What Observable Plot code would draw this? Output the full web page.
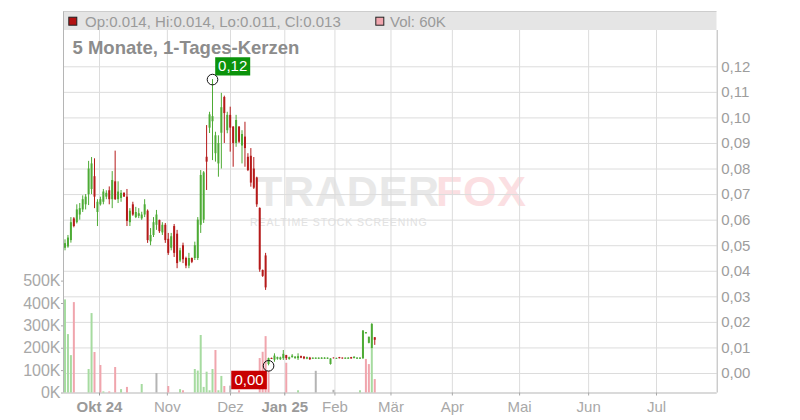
<!DOCTYPE html>
<html><head><meta charset="utf-8">
<script src="https://cdn.jsdelivr.net/npm/d3@7"></script>
<script src="https://cdn.jsdelivr.net/npm/@observablehq/plot@0.6"></script>
<style>
html,body{margin:0;padding:0;background:#fff;}
#wrap{position:relative;width:800px;height:420px;overflow:hidden;font-family:"Liberation Sans",Arial,sans-serif;}
.layer{position:absolute;left:0;top:0;width:800px;height:420px;}
.layer svg{display:block;}
</style></head>
<body>
<div id="wrap">
  <svg class="layer" id="wm" width="800" height="420">
    <text x="256" y="205.5" font-family="Liberation Sans, Arial, sans-serif" font-weight="bold" font-size="43" letter-spacing="0.8" fill="#e8e8e8">TRADER</text>
    <text x="436" y="205.5" font-family="Liberation Sans, Arial, sans-serif" font-weight="bold" font-size="43" letter-spacing="0.8" fill="#fbdfe2">FOX</text>
    <text x="250" y="226" font-family="Liberation Sans, Arial, sans-serif" font-size="10.5" letter-spacing="0.9" fill="#e2e2e2">REALTIME STOCK SCREENING</text>
  </svg>
  <div class="layer" id="gridLayer"></div>
  <div class="layer" id="volLayer"></div>
  <div class="layer" id="candleLayer"></div>
  <svg class="layer" id="hdr" width="800" height="420" style="pointer-events:none">
    <rect x="63" y="11.5" width="653.5" height="18.5" fill="#e5e5e5"/>
    <line x1="63" x2="716.5" y1="11.5" y2="11.5" stroke="#cdcdcd"/>
    <line x1="63.5" x2="63.5" y1="11.5" y2="30" stroke="#b5b5b5"/>
    <rect x="68.8" y="17.2" width="8" height="8" fill="#b31212" stroke="#222"/>
    <text x="85" y="26.7" font-family="Liberation Sans, Arial, sans-serif" font-size="15" fill="#9a9a9a">Op:0.014, Hi:0.014, Lo:0.011, Cl:0.013</text>
    <rect x="375.8" y="17.2" width="8" height="8" fill="#f0a6ae" stroke="#222"/>
    <text x="390" y="26.7" font-family="Liberation Sans, Arial, sans-serif" font-size="15" fill="#9a9a9a">Vol: 60K</text>
    <text x="72.5" y="54.3" font-family="Liberation Sans, Arial, sans-serif" font-weight="bold" font-size="18.5" fill="#8c8c8c">5 Monate, 1-Tages-Kerzen</text>
  </svg>
</div>
<script>
// ---------- data (one entry per trading day, index 0..105) ----------
const openP = [
.049,.0495,.052,.0605,.059,.062,.064,.066,.070,.072,
.077,.063,.066,.067,.069,.0715,.068,.075,.068,.0685,
.0705,.069,.059,.066,.061,.0615,.0605,.062,.0635,.0515,
.054,.058,.0599,.055,.058,.0525,.049,.0575,.0545,.044,
.050,.045,.042,.045,.045,.045,.058,.060,.0846,.096,
.0985,.086,.082,.094,.108,.095,.101,.0964,.090,.0964,
.089,.0925,.0846,.085,.080,.0765,.0646,.0403,.046,.0035,
.0059,.0052,.0056,.0054,.0058,.007,.0055,.0062,.0058,.0058,
.0066,.0064,.0056,.0060,.0056,.0056,.0056,.0056,.0056,.0056,
.0035,.006,.0056,.0062,.006,.0056,.0056,.0062,.0058,.0056,
.0056,.0058,.0155,.0118,.0098,.014];
const highP = [
.0523,.054,.061,.061,.066,.0665,.0695,.070,.083,.0845,
.084,.068,.069,.072,.0715,.073,.079,.087,.075,.0716,
.0707,.072,.0645,.067,.065,.0645,.0631,.068,.064,.0567,
.061,.0638,.060,.059,.0587,.0548,.0548,.0583,.056,.049,
.051,.0455,.047,.0452,.0514,.061,.0794,.079,.097,.1022,
.115,.0944,.093,.1096,.1085,.1022,.1042,.0966,.101,.0966,
.095,.0983,.086,.088,.0845,.0768,.0648,.0405,.047,.006,
.006,.0077,.0064,.0064,.009,.0071,.0064,.0074,.0066,.0077,
.0068,.0066,.0064,.0063,.0061,.0061,.0061,.0062,.0062,.0061,
.0058,.0061,.006,.0063,.0061,.0061,.0062,.0063,.0065,.0062,
.0062,.0168,.016,.0142,.0195,.014];
const lowP = [
.048,.049,.051,.057,.0585,.060,.063,.064,.0657,.070,
.0645,.0575,.0655,.066,.068,.066,.0645,.0677,.0665,.067,
.069,.0575,.0575,.0615,.0606,.0606,.0599,.061,.0509,.050,
.0532,.056,.0548,.054,.0509,.0462,.048,.0454,.041,.0434,
.043,.041,.041,.043,.0442,.0442,.0548,.0587,.0716,.0939,
.0833,.0827,.0768,.080,.090,.0938,.0866,.0807,.0885,.090,
.082,.0807,.079,.0729,.072,.065,.0396,.0376,.0325,.003,
.0055,.0044,.0052,.0051,.0051,.0051,.0052,.006,.0056,.0051,
.0058,.0054,.0054,.0051,.0055,.0055,.0055,.0055,.0055,.0055,
.0033,.0057,.0055,.0057,.0056,.0055,.0055,.0056,.0058,.0055,
.0055,.0055,.0155,.0116,.0097,.011];
const closeP = [
.0508,.053,.059,.0575,.064,.0645,.068,.069,.080,.082,
.069,.067,.068,.071,.0705,.068,.0755,.068,.071,.0705,
.069,.0595,.0635,.062,.063,.0625,.062,.066,.052,.054,
.059,.062,.0555,.058,.052,.047,.0535,.047,.043,.048,
.0445,.042,.045,.0435,.050,.060,.0775,.0785,.0827,.1012,
.1005,.093,.090,.104,.1017,.101,.096,.090,.099,.0905,
.0935,.088,.0794,.0745,.0725,.066,.0405,.038,.0335,.0058,
.0055,.0068,.0062,.0061,.0075,.0058,.0062,.0068,.0064,.0066,
.006,.0057,.0062,.0054,.006,.006,.006,.006,.006,.006,
.0057,.0058,.0059,.0058,.0057,.006,.006,.0057,.0064,.006,
.006,.0166,.016,.0142,.0192,.013];
// volume in thousands
const volK = [
416,261,167,404,0,0,0,0,105,355,
181,0,123,5,0,5,0,114,0,15,
0,25,0,0,0,0,38,0,0,0,
0,87,0,0,0,29,0,0,0,15,
10,0,0,0,105,98,257,25,93,10,
105,190,10,74,29,0,31,0,0,10,
0,0,0,0,0,0,154,182,252,97,
0,0,0,0,0,133,0,0,0,10,
0,0,0,0,0,97,0,0,0,0,
0,12,0,0,0,0,0,0,0,0,
10,0,150,127,200,60];
// u = up, d = down, n = unchanged
const volDir = ("uuud....uu" + "d.du.d.d.u" + ".d....u..." + ".n...d...u" + "d...uuuuuu" +
                "uduud.n..d" + "......dddd" + ".....d...u" + ".....n...." + ".n........" + "u.ddud").split("");
// month ticks (position in trading-day index)
const monthPos    = [11.7, 34.7, 56.1, 74.5, 91.5, 110.5, 131.3, 154.1, 177.5, 200.5];
const monthLabels = ["Okt 24","Nov","Dez","Jan 25","Feb","Mär","Apr","Mai","Jun","Jul"];
const yearStarts  = ["Okt 24","Jan 25"];
const priceTicks  = [0,.01,.02,.03,.04,.05,.06,.07,.08,.09,.10,.11,.12];
const volTicksK   = [0,100,200,300,400,500];

// ---------- scales / layout ----------
const X_DOMAIN = [-0.51, 221.08];
const P_DOMAIN = [-0.00763, 0.1342];
const V_DOMAIN = [0, 1620];
const M = {width: 800, height: 420, marginLeft: 63, marginRight: 83.3, marginTop: 30, marginBottom: 27.5};
const FONT = "'Liberation Sans', Arial, sans-serif";
const GREEN = "#4dab35", RED = "#b51a1a";
const VGREEN = "#a6dba0", VRED = "#f0a5ad", VGRAY = "#b4b4b4";
const comma2 = d => d.toFixed(2).replace(".", ",");
const labelAt = new Map(monthPos.map((p, i) => [p, monthLabels[i]]));
const boldPos = monthPos.filter((p, i) => yearStarts.includes(monthLabels[i]));
const normPos = monthPos.filter((p, i) => !yearStarts.includes(monthLabels[i]));

const candles = openP.map((o, i) => ({i, o, h: highP[i], l: lowP[i], c: closeP[i]}));
const up = candles.filter(d => d.c >= d.o), dn = candles.filter(d => d.c < d.o);
const vols = volK.map((v, i) => ({i, v, dir: volDir[i]})).filter(d => d.v > 0);

// ---------- layer 1: grid + x axis + price axis ----------
const gridPlot = Plot.plot({
  ...M,
  style: {background: "transparent", fontFamily: FONT},
  x: {domain: X_DOMAIN},
  y: {domain: P_DOMAIN},
  marks: [
    Plot.gridY(priceTicks, {stroke: "#dcdcdc", strokeOpacity: 1}),
    Plot.gridX(monthPos, {stroke: "#dcdcdc", strokeOpacity: 1}),
    Plot.ruleX([X_DOMAIN[0], X_DOMAIN[1]], {stroke: "#b5b5b5"}),
    Plot.ruleY([P_DOMAIN[0]], {stroke: "#b5b5b5"}),
    Plot.axisY(priceTicks, {anchor: "right", tickSize: 0, tickPadding: 4, fontSize: 15, color: "#9d9d9d", tickFormat: comma2, label: null}),
    Plot.axisX(normPos, {anchor: "bottom", tickSize: 3, tickPadding: 5.5, fontSize: 15, color: "#a8a8a8", tickFormat: d => labelAt.get(d), label: null}),
    Plot.axisX(boldPos, {anchor: "bottom", tickSize: 3, tickPadding: 5.5, fontSize: 15, fontWeight: "bold", color: "#9a9a9a", tickFormat: d => labelAt.get(d), label: null})
  ]
});
document.getElementById("gridLayer").append(gridPlot);

// ---------- layer 2: volume ----------
const volPlot = Plot.plot({
  ...M,
  style: {background: "transparent", fontFamily: FONT},
  x: {domain: X_DOMAIN, axis: null},
  y: {domain: V_DOMAIN},
  marks: [
    Plot.ruleX(vols.filter(d => d.dir === "u"), {x: "i", y1: 0, y2: "v", stroke: VGREEN, strokeWidth: 2}),
    Plot.ruleX(vols.filter(d => d.dir === "d"), {x: "i", y1: 0, y2: "v", stroke: VRED, strokeWidth: 2}),
    Plot.ruleX(vols.filter(d => d.dir === "n"), {x: "i", y1: 0, y2: "v", stroke: VGRAY, strokeWidth: 2}),
    Plot.axisY(volTicksK, {anchor: "left", tickSize: 2, tickPadding: 1, fontSize: 16, color: "#a8a8a8", tickFormat: d => d + "K", label: null})
  ]
});
document.getElementById("volLayer").append(volPlot);

// ---------- layer 3: candles + high/low markers ----------
const hiI = d3.maxIndex(highP), loI = d3.minIndex(lowP);
const hiPt = [{i: hiI, p: highP[hiI]}], loPt = [{i: loI, p: lowP[loI]}];
const boxHigh = {draw(ctx) { ctx.rect(2.7, -22.3, 35, 18.3); }};
const boxLow  = {draw(ctx) { ctx.rect(-37.3, 5, 35.6, 18.3); }};
const candlePlot = Plot.plot({
  ...M,
  style: {background: "transparent", fontFamily: FONT},
  x: {domain: X_DOMAIN, axis: null},
  y: {domain: P_DOMAIN, axis: null},
  marks: [
    Plot.ruleX(up, {x: "i", y1: "l", y2: "h", stroke: GREEN, strokeWidth: 1}),
    Plot.ruleX(up, {x: "i", y1: "o", y2: "c", stroke: GREEN, strokeWidth: 2}),
    Plot.ruleX(dn, {x: "i", y1: "l", y2: "h", stroke: RED, strokeWidth: 1}),
    Plot.ruleX(dn, {x: "i", y1: "o", y2: "c", stroke: RED, strokeWidth: 2}),
    Plot.dot(hiPt, {x: "i", y: "p", symbol: boxHigh, fill: "#0b930b", stroke: "none", r: 1}),
    Plot.text(hiPt, {x: "i", y: "p", text: d => comma2(d.p), dx: 20.2, dy: -13, fill: "white", fontSize: 15, textAnchor: "middle"}),
    Plot.dot(hiPt, {x: "i", y: "p", r: 5.3, stroke: "#111", fill: "none", strokeWidth: 1}),
    Plot.dot(loPt, {x: "i", y: "p", symbol: boxLow, fill: "#c80000", stroke: "none", r: 1}),
    Plot.text(loPt, {x: "i", y: "p", text: d => comma2(d.p), dx: -19.5, dy: 14.2, fill: "white", fontSize: 15, textAnchor: "middle"}),
    Plot.dot(loPt, {x: "i", y: "p", r: 5.3, stroke: "#111", fill: "none", strokeWidth: 1})
  ]
});
document.getElementById("candleLayer").append(candlePlot);
</script>
</body></html>
